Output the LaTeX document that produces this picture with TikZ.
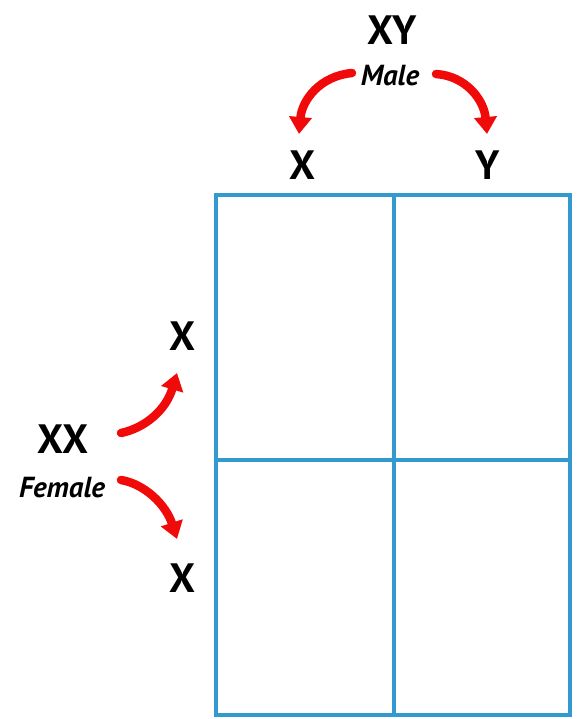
\documentclass[tikz,border=0pt]{standalone}
\usepackage{fontspec}
\setmainfont{PT Sans}
\usetikzlibrary{arrows.meta}
\definecolor{gridblue}{RGB}{51,153,207}
\definecolor{arrred}{RGB}{240,10,10}
\begin{document}
\begin{tikzpicture}[x=1pt,y=-1pt,
  allele/.style={font=\fontsize{41}{41}\selectfont\bfseries, inner sep=0pt},
  sexlbl/.style={font=\fontsize{29}{29}\selectfont\bfseries\itshape, inner sep=0pt},
  gridline/.style={draw=gridblue, line width=4.5pt},
  redarrow/.style={draw=arrred, line width=8.5pt, line cap=round, -{Triangle[length=17pt,width=22pt]}}]
\useasboundingbox (0,0) rectangle (581,719);
% grid
\draw[gridline] (216,195) coordinate (g1) rectangle (570,715) coordinate (g2);
\draw[gridline] (394,195) -- (394,715);
\draw[gridline] (216,460) -- (570,460);
% labels
\node[allele] (xy) at (392,30) {XY};
\node[sexlbl] (male) at (390,76) {Male};
\node[allele] (mx) at (302,165) {X};
\node[allele] (my) at (488,165) {Y};
\node[allele] (fx1) at (182,336) {X};
\node[allele] (xx) at (63,439) {XX};
\node[sexlbl] (female) at (62,488) {Female};
\node[allele] (fx2) at (182,578) {X};
% arrow end points
\coordinate (a1s) at (352,73);
\coordinate (a1e) at (299,134);
\coordinate (a2s) at (436,74);
\coordinate (a2e) at (487,134);
\coordinate (a3s) at (121,433);
\coordinate (a3e) at (177,373);
\coordinate (a4s) at (121,480);
\coordinate (a4e) at (177,539);
\draw[redarrow] (a1s) .. controls (320,76) and (302,100) .. (a1e);
\draw[redarrow] (a2s) .. controls (466,76) and (484,100) .. (a2e);
\draw[redarrow] (a3s) .. controls (145,428) and (166,410) .. (a3e);
\draw[redarrow] (a4s) .. controls (145,484) and (166,505) .. (a4e);
\end{tikzpicture}
\end{document}
